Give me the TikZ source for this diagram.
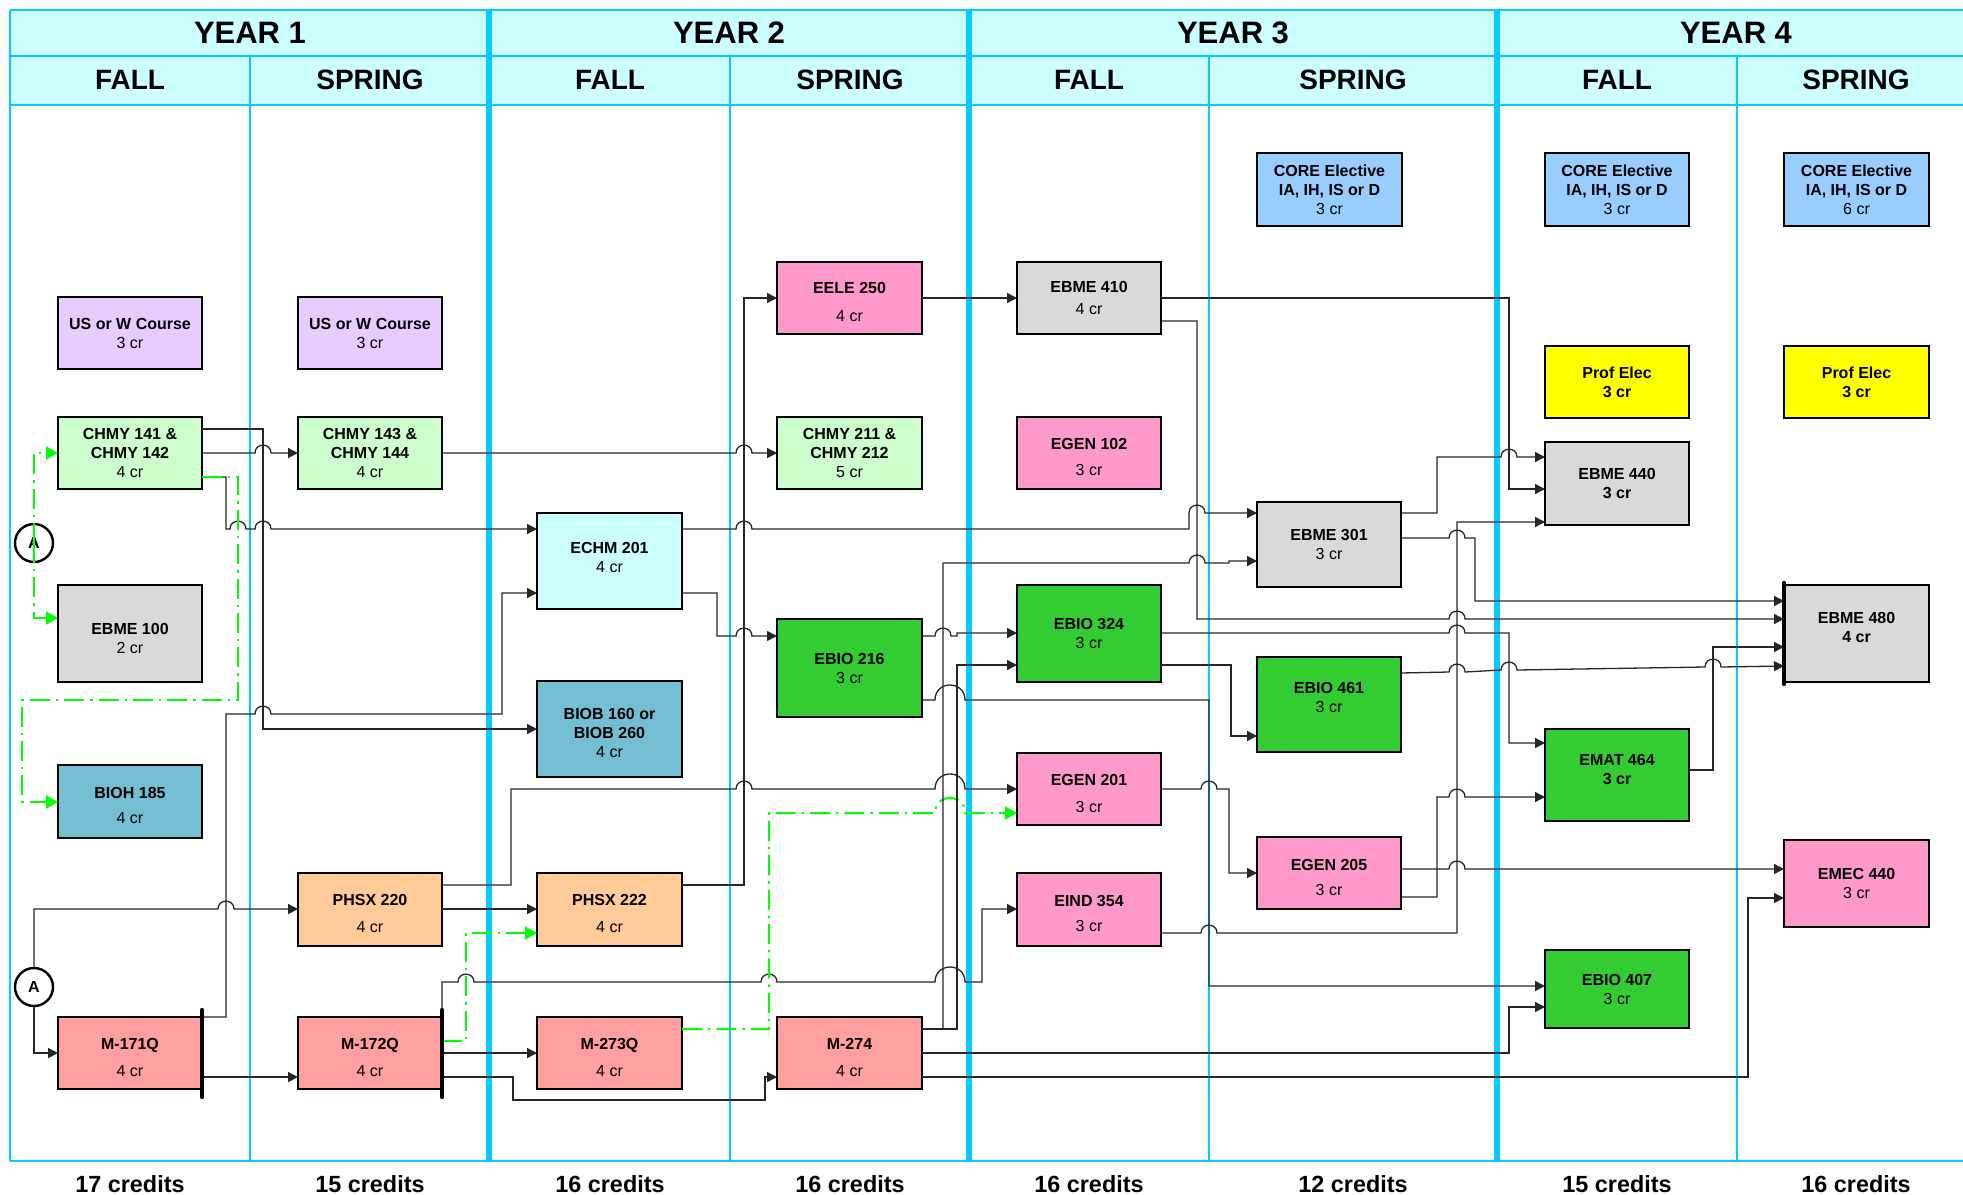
\documentclass[tikz,border=0pt]{standalone}
\usepackage{fontspec}
\setmainfont{Liberation Sans}
\usetikzlibrary{arrows.meta}
\definecolor{cyanline}{HTML}{00CCFF}
\definecolor{hdrfill}{HTML}{CCFFFF}
\definecolor{cLav}{HTML}{E6CCFF}
\definecolor{cLgreen}{HTML}{CCFFCC}
\definecolor{cGry}{HTML}{D9D9D9}
\definecolor{cTeal}{HTML}{73BED3}
\definecolor{cPeach}{HTML}{FFCC99}
\definecolor{cSalmon}{HTML}{FF9F9F}
\definecolor{cIce}{HTML}{CCFFFF}
\definecolor{cPink}{HTML}{FF99CC}
\definecolor{cGreen}{HTML}{33CC33}
\definecolor{cSky}{HTML}{99CCFF}
\definecolor{cYel}{HTML}{FFFF00}
\definecolor{cLime}{HTML}{00FF00}
\newcommand\bxfont{\fontsize{8}{9.5}\selectfont}
\newcommand\up[1]{\rule{0pt}{#1pt}}
\tikzset{
  box/.style={draw=black, line width=1pt, inner sep=0pt, outer sep=0pt, align=center, font=\bxfont},
  sz/.style args={#1/#2}{minimum width=#1pt, minimum height=#2pt},
  cy/.style={draw=cyanline, line width=1pt},
  cyt/.style={draw=cyanline, line width=2.6pt},
  conn/.style={draw=black!85, line width=0.65pt},
  ar/.style={-{Triangle[length=5pt,width=5pt]}},
  gl/.style={draw=cLime, line width=1pt, dash pattern=on 10pt off 3pt on 1.2pt off 3pt},
  gar/.style={-{Triangle[length=6pt,width=6.5pt,color=cLime,fill=cLime]}},
  bar/.style={draw=black, line width=2.2pt, line cap=round},
  circA/.style={circle, draw=black, line width=1.2pt, fill=white, minimum size=19pt, inner sep=0pt, font=\bfseries\fontsize{8}{9}\selectfont},
  yearlbl/.style={font=\bfseries\fontsize{15.5}{16}\selectfont},
  semlbl/.style={font=\bfseries\fontsize{14}{15}\selectfont},
  cred/.style={font=\bfseries\fontsize{11.7}{12}\selectfont},
  hop/.style args={#1/#2}{insert path={-- ({#1-8},#2) .. controls ({#1-8},{#2-10.5}) and ({#1+8},{#2-10.5}) .. ({#1+8},#2)}},
  bhop/.style args={#1/#2}{insert path={-- ({#1-15},#2) .. controls ({#1-15},{#2-20}) and ({#1+15},{#2-20}) .. ({#1+15},#2)}},
}
\begin{document}
\begin{tikzpicture}[x=0.5pt,y=-0.5pt]
\useasboundingbox (0,0) rectangle (1963,1194);
\fill[white] (0,0) rectangle (1963,1194);
% header
\fill[hdrfill] (10,10) rectangle (1963,105);
\draw[cy] (10,10) -- (1963,10);
\draw[cy] (10,56) -- (1963,56);
\draw[cy, line width=1.3pt] (10,105) -- (1963,105);
\draw[cy, line width=1.3pt] (10,1161) -- (1963,1161);
\draw[cy] (10,10) -- (10,1161);
\foreach \xx in {250,730,1209,1737} \draw[cy] (\xx,56) -- (\xx,1161);
\foreach \xx in {489,969,1497} \draw[cyt] (\xx,10) -- (\xx,1161);
\node[yearlbl] (y1) at (250,33) {YEAR 1};
\node[yearlbl] (y2) at (729,33) {YEAR 2};
\node[yearlbl] (y3) at (1233,33) {YEAR 3};
\node[yearlbl] (y4) at (1736,33) {YEAR 4};
\node[semlbl] (s1) at (130,80) {FALL};
\node[semlbl] (s2) at (370,80) {SPRING};
\node[semlbl] (s3) at (610,80) {FALL};
\node[semlbl] (s4) at (850,80) {SPRING};
\node[semlbl] (s5) at (1089,80) {FALL};
\node[semlbl] (s6) at (1353,80) {SPRING};
\node[semlbl] (s7) at (1617,80) {FALL};
\node[semlbl] (s8) at (1856,80) {SPRING};
\node[cred] (k1) at (130,1184) {17 credits};
\node[cred] (k2) at (370,1184) {15 credits};
\node[cred] (k3) at (610,1184) {16 credits};
\node[cred] (k4) at (850,1184) {16 credits};
\node[cred] (k5) at (1089,1184) {16 credits};
\node[cred] (k6) at (1353,1184) {12 credits};
\node[cred] (k7) at (1617,1184) {15 credits};
\node[cred] (k8) at (1856,1184) {16 credits};
% boxes
\node[box,sz=72/36,fill=cLav] (usw1) at (130,333) {\textbf{US or W Course}\\3 cr};
\node[box,sz=72/36,fill=cLav] (usw2) at (370,333) {\textbf{US or W Course}\\3 cr};
\node[box,sz=72/36,fill=cLgreen] (chmy141) at (130,453) {\textbf{CHMY 141 \&}\\\textbf{CHMY 142}\\4 cr};
\node[box,sz=72/36,fill=cLgreen] (chmy143) at (370,453) {\textbf{CHMY 143 \&}\\\textbf{CHMY 144}\\4 cr};
\node[box,sz=72/48.5,fill=cGry] (ebme100) at (130,633.5) {\up{11}\textbf{EBME 100}\\2 cr};
\node[box,sz=72/36.5,fill=cTeal] (bioh185) at (130,801.5) {\up{10}\textbf{BIOH 185}\\[3pt]4 cr};
\node[box,sz=72/36,fill=cSalmon] (m171) at (130,1053) {\up{10}\textbf{M-171Q}\\[4pt]4 cr};
\node[box,sz=72/36.5,fill=cPeach] (phsx220) at (370,909.5) {\up{10}\textbf{PHSX 220}\\[4pt]4 cr};
\node[box,sz=72/36,fill=cSalmon] (m172) at (370,1053) {\up{10}\textbf{M-172Q}\\[4pt]4 cr};
\node[box,sz=72.5/48,fill=cIce] (echm201) at (609.5,561) {\textbf{ECHM 201}\\4 cr\\[-6pt]~};
\node[box,sz=72.5/48,fill=cTeal] (biob) at (609.5,729) {\up{10}\textbf{BIOB 160 or}\\\textbf{BIOB 260}\\4 cr};
\node[box,sz=72.5/36.5,fill=cPeach] (phsx222) at (609.5,909.5) {\up{10}\textbf{PHSX 222}\\[4pt]4 cr};
\node[box,sz=72.5/36,fill=cSalmon] (m273) at (609.5,1053) {\up{10}\textbf{M-273Q}\\[4pt]4 cr};
\node[box,sz=72.5/36,fill=cPink] (eele250) at (849.5,298) {\up{10}\textbf{EELE 250}\\[4.5pt]4 cr};
\node[box,sz=72.5/36,fill=cLgreen] (chmy211) at (849.5,453) {\textbf{CHMY 211 \&}\\\textbf{CHMY 212}\\5 cr};
\node[box,sz=72.5/49,fill=cGreen] (ebio216) at (849.5,668) {\textbf{EBIO 216}\\3 cr};
\node[box,sz=72.5/36,fill=cSalmon] (m274) at (849.5,1053) {\up{10}\textbf{M-274}\\[4pt]4 cr};
\node[box,sz=72/36,fill=cGry] (ebme410) at (1089,298) {\textbf{EBME 410}\\[1.5pt]4 cr};
\node[box,sz=72/36,fill=cPink] (egen102) at (1089,453) {\up{10}\textbf{EGEN 102}\\[3.5pt]3 cr};
\node[box,sz=72/48.5,fill=cGreen] (ebio324) at (1089,633.5) {\textbf{EBIO 324}\\3 cr};
\node[box,sz=72/36,fill=cPink] (egen201) at (1089,789) {\up{10}\textbf{EGEN 201}\\[4pt]3 cr};
\node[box,sz=72/36.5,fill=cPink] (eind354) at (1089,909.5) {\up{10}\textbf{EIND 354}\\[3pt]3 cr};
\node[box,sz=72.5/36.5,fill=cSky] (core3) at (1329.5,189.5) {\textbf{CORE Elective}\\\textbf{IA, IH, IS or D}\\3 cr};
\node[box,sz=72/42.5,fill=cGry] (ebme301) at (1329,544.5) {\textbf{EBME 301}\\3 cr};
\node[box,sz=72/47.5,fill=cGreen] (ebio461) at (1329,704.5) {\textbf{EBIO 461}\\3 cr\\[-2pt]~};
\node[box,sz=72/36,fill=cPink] (egen205) at (1329,873) {\up{10}\textbf{EGEN 205}\\[3pt]3 cr};
\node[box,sz=72/36.5,fill=cSky] (core4f) at (1617,189.5) {\textbf{CORE Elective}\\\textbf{IA, IH, IS or D}\\3 cr};
\node[box,sz=72/36,fill=cYel] (prof4f) at (1617,382) {\textbf{Prof Elec}\\\textbf{3 cr}};
\node[box,sz=72/41.5,fill=cGry] (ebme440) at (1617,483.5) {\textbf{EBME 440}\\\textbf{3 cr}};
\node[box,sz=72/46,fill=cGreen] (emat464) at (1617,775) {\textbf{EMAT 464}\\\textbf{3 cr}\\[-4pt]~};
\node[box,sz=72/39,fill=cGreen] (ebio407) at (1617,989) {\textbf{EBIO 407}\\3 cr};
\node[box,sz=72.5/36.5,fill=cSky] (core4s) at (1856.5,189.5) {\textbf{CORE Elective}\\\textbf{IA, IH, IS or D}\\6 cr};
\node[box,sz=72.5/36,fill=cYel] (prof4s) at (1856.5,382) {\textbf{Prof Elec}\\\textbf{3 cr}};
\node[box,sz=72.5/48.5,fill=cGry] (ebme480) at (1856.5,633.5) {\textbf{EBME 480}\\\textbf{4 cr}\\[-3pt]~};
\node[box,sz=72.5/43.5,fill=cPink] (emec440) at (1856.5,883.5) {\textbf{EMEC 440}\\3 cr};
% A circles
\node[circA] (a1) at (34,543) {A};
\node[circA] (a2) at (34,987) {A};
% ---- connectors ----
% Year 1
\draw[conn,ar] (chmy141.east) [hop=263/453] -- (chmy143.west);
\draw[conn,ar] (chmy141.east |- 0,429) -- (263,429) -- (263,729) -- (biob.west |- 0,729);
\draw[conn,ar] (chmy141.east |- 0,477) -- (226,477) -- (226,529) [hop=238/529] [hop=263/529] -- (echm201.west |- 0,529);
\draw[conn,ar] (chmy143.east) [hop=744/453] -- (chmy211.west);
\draw[conn,ar] (m171.east |- 0,1017) -- (226,1017) -- (226,714) [hop=263/714] -- (502,714) -- (502,593) -- (echm201.west |- 0,593);
\draw[conn,ar] (m171.east |- 0,1077) -- (m172.west |- 0,1077);
\draw[conn,ar] (a2.north) -- (34,909) [hop=226/909] -- (phsx220.west |- 0,909);
\draw[conn,ar] (a2.south) -- (34,1053) -- (m171.west);
\draw[gl,gar] (chmy141.east |- 0,477) -- (238,477) -- (238,700) -- (22,700) -- (22,802) -- (bioh185.west |- 0,802);
\draw[gl,gar] (a1.center) -- (34,453) -- (chmy141.west);
\draw[gl,gar] (a1.center) -- (34,618) -- (ebme100.west |- 0,618);
\draw[conn,ar] (phsx220.east |- 0,909) -- (phsx222.west |- 0,909);
\draw[conn,ar] (phsx220.east |- 0,885) -- (511,885) -- (511,789) [hop=744/789] [bhop=950/789] -- (egen201.west);
\draw[gl,gar] (m172.east |- 0,1041) -- (466,1041) -- (466,933) -- (phsx222.west |- 0,933);
\draw[conn,ar] (m172.east |- 0,1010) -- (442,982) [hop=466/982] [hop=769/982] [bhop=950/982] -- (982,982) -- (982,909) -- (eind354.west |- 0,909);
\draw[conn,ar] (m172.east |- 0,1053) -- (m273.west);
\draw[conn,ar] (m172.east |- 0,1077) -- (513,1077) -- (513,1100) -- (765,1100) -- (765,1077) -- (m274.west |- 0,1077);
% Year 2
\draw[conn,ar] (echm201.east |- 0,593) -- (717,593) -- (717,636) [hop=744/636] -- (ebio216.west |- 0,636);
\draw[conn,ar] (echm201.east |- 0,529) [hop=744/529] -- (1189,529) -- (1189,513) [hop=1197/513] -- (ebme301.west |- 0,513);
\draw[conn,ar] (phsx222.east |- 0,885) -- (744,885) -- (744,298) -- (eele250.west);
\draw[gl,gar] (m273.east |- 0,1029) -- (769,1029) -- (769,813) [bhop=950/813] -- (egen201.west |- 0,813);
\draw[conn,ar] (eele250.east) -- (ebme410.west);
\draw[conn,ar] (ebio216.east |- 0,636) [hop=943/636] -- (957,636) -- (957,633) -- (ebio324.west |- 0,633);
\draw[conn,ar] (ebio216.east |- 0,700) [bhop=950/700] -- (1209,700) -- (1209,986) -- (ebio407.west |- 0,986);
\draw[conn,ar] (m274.east |- 0,1029) -- (943,1029) -- (943,563) [hop=1197/563] -- (1229,563) -- (1229,561) -- (ebme301.west |- 0,561);
\draw[conn,ar] (m274.east |- 0,1029) -- (957,1029) -- (957,665) -- (ebio324.west |- 0,665);
\draw[conn,ar] (m274.east |- 0,1053) -- (1509,1053) -- (1509,1007) -- (ebio407.west |- 0,1007);
\draw[conn,ar] (m274.east |- 0,1077) -- (1748,1077) -- (1748,898) -- (emec440.west |- 0,898);
% Year 3
\draw[conn,ar] (ebme410.east) -- (1509,298) -- (1509,489) -- (ebme440.west |- 0,489);
\draw[conn,ar] (ebme410.east |- 0,321) -- (1197,321) -- (1197,619) [hop=1457/619] -- (ebme480.west |- 0,619);
\draw[conn,ar] (ebio324.east |- 0,633) [hop=1457/633] -- (1509,633) -- (1509,743) -- (emat464.west |- 0,743);
\draw[conn,ar] (ebio324.east |- 0,665) -- (1231,665) -- (1231,736) -- (ebio461.west |- 0,736);
\draw[conn,ar] (egen201.east) [hop=1209/789] -- (1229,789) -- (1229,873) -- (egen205.west);
\draw[conn,ar] (eind354.east |- 0,933) [hop=1209/933] -- (1457,933) -- (1457,522) -- (ebme440.west |- 0,522);
\draw[conn,ar] (ebme301.east |- 0,513) -- (1437,513) -- (1437,457) [hop=1509/457] -- (ebme440.west |- 0,457);
\draw[conn,ar] (ebme301.east |- 0,538) [hop=1457/538] -- (1475,538) -- (1475,601) -- (ebme480.west |- 0,601);
\draw[conn,ar] (ebio461.east |- 0,673) [hop=1457/672] [hop=1509/670] [hop=1713/667] -- (ebme480.west |- 0,666);
\draw[conn,ar] (egen205.east |- 0,897) -- (1437,897) -- (1437,797) [hop=1457/797] -- (emat464.west |- 0,797);
\draw[conn,ar] (egen205.east |- 0,869) [hop=1457/869] -- (emec440.west |- 0,869);
% Year 4
\draw[conn,ar] (emat464.east |- 0,770) -- (1713,770) -- (1713,647) -- (ebme480.west |- 0,647);
% thick bars
\draw[bar] (m171.north east) ++(0,-7) -- ++(0,87);
\draw[bar] (m172.north east) ++(0,-7) -- ++(0,87);
\draw[bar] (ebme480.north west) ++(0,-2) -- ++(0,101);
\end{tikzpicture}
\end{document}
